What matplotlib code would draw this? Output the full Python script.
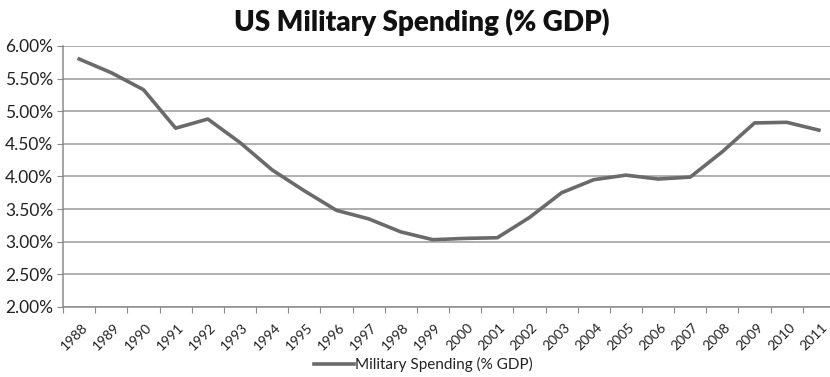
import numpy as np
import matplotlib.pyplot as plt
import matplotlib.transforms as mtransforms
from matplotlib.ticker import FixedLocator, NullFormatter, FixedFormatter

# Daten
years = [str(y) for y in range(1988, 2012)]
spending = [5.80, 5.59, 5.33, 4.74, 4.88, 4.52, 4.10, 3.78, 3.48, 3.35, 3.15, 3.03,
            3.05, 3.06, 3.37, 3.75, 3.95, 4.02, 3.96, 3.99, 4.38, 4.82, 4.83, 4.71]
y_ticks = [2.0, 2.5, 3.0, 3.5, 4.0, 4.5, 5.0, 5.5, 6.0]

plt.rcParams['font.family'] = ['Lato', 'DejaVu Sans']

fig = plt.figure(figsize=(8.3, 3.77), dpi=100)
ax = fig.add_axes([0.076, 0.186, 0.93, 0.692])

x = np.arange(len(years))
line, = ax.plot(x, spending, color='#6a6a6a', lw=2.6, solid_joinstyle='round',
                label='Military Spending (% GDP)')

ax.set_xlim(-0.5, len(years) - 0.5)
ax.set_ylim(2.0, 6.0)
ax.set_yticks(y_ticks)
ax.set_yticklabels([f"{v:.2f}%" for v in y_ticks], fontsize=12.5, color='#222222')
ax.grid(axis='y', color='#9a9a9a', lw=1.1)
ax.set_axisbelow(True)

# Kategorien: Ticks zwischen den Jahren, Labels in der Mitte
ax.xaxis.set_major_locator(FixedLocator(np.arange(-0.5, len(years), 1.0)))
ax.xaxis.set_major_formatter(NullFormatter())
ax.xaxis.set_minor_locator(FixedLocator(x))
ax.xaxis.set_minor_formatter(FixedFormatter(years))
ax.tick_params(axis='x', which='major', length=4, color='#8a8a8a', direction='out')
ax.tick_params(axis='x', which='minor', length=0, labelsize=10, labelcolor='#222222', pad=10)
shift = mtransforms.ScaledTranslation(2 / 100, 0, fig.dpi_scale_trans)
for lbl in ax.get_xticklabels(minor=True):
    lbl.set_rotation(45)
    lbl.set_ha('right')
    lbl.set_rotation_mode('anchor')
    lbl.set_transform(lbl.get_transform() + shift)
ax.tick_params(axis='y', length=4, color='#8a8a8a', pad=3)

for s in ['top', 'right']:
    ax.spines[s].set_visible(False)
for s in ['left', 'bottom']:
    ax.spines[s].set_color('#8a8a8a')
    ax.spines[s].set_linewidth(1.1)

fig.text(0.508, 0.94, 'US Military Spending (% GDP)', ha='center', va='center',
         fontsize=20, fontweight='heavy', color='#111111')

fig.legend(handles=[line], loc='center', bbox_to_anchor=(0.51, 0.032), frameon=False,
           fontsize=11, handlelength=2.6, handletextpad=0.1, labelcolor='#222222')

fig.savefig('out.png', dpi=100)
